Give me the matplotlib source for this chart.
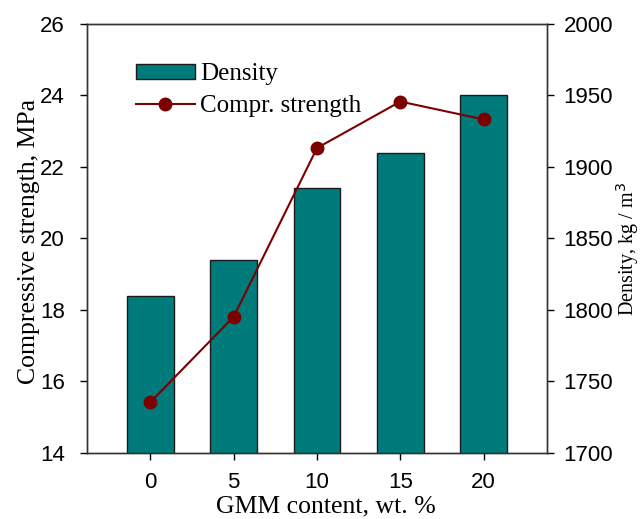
import numpy as np
import matplotlib.pyplot as plt

# GMM content (wt. %)
gmm = [0, 5, 10, 15, 20]
# density, kg/m3 (bars, right axis)
density = [1810, 1835, 1885, 1910, 1950]
# compressive strength, MPa (line, left axis)
strength = [15.42, 17.81, 22.53, 23.83, 23.33]

plt.rcParams['font.family'] = ['Liberation Sans', 'DejaVu Sans']
serif = ['Liberation Serif', 'DejaVu Serif']

fig = plt.figure(figsize=(6.43, 5.19), dpi=100)
ax = fig.add_axes([0.1353, 0.1272, 0.7154, 0.8266])
ax2 = ax.twinx()

bars = ax2.bar(gmm, density, width=2.8, color='#007B7B', edgecolor='#1a1a1a',
               linewidth=1.0, label='Density')
line, = ax.plot(gmm, strength, color='#7B0000', marker='o', markersize=9,
                linewidth=1.5, label='Compr. strength')

# keep the line above the bars
ax.set_zorder(ax2.get_zorder() + 1)
ax.patch.set_visible(False)

ax.set_xlim(-3.8, 23.8)
ax.set_ylim(14, 26)
ax.set_yticks(np.arange(14, 27, 2))
ax.set_xticks(gmm)
ax2.set_ylim(1700, 2000)
ax2.set_yticks(np.arange(1700, 2001, 50))

for a in (ax, ax2):
    a.tick_params(direction='out', length=5, width=1, labelsize=16)
    for s in a.spines.values():
        s.set_linewidth(1.0)
        s.set_color('#333333')
ax.tick_params(axis='y', pad=11)
ax.tick_params(axis='x', pad=9)
ax2.tick_params(axis='y', pad=7)

ax.set_xlabel('GMM content, wt. %', family=serif, fontsize=18.5)
ax.xaxis.set_label_coords(0.52, -0.1)
ax.set_ylabel('Compressive strength, MPa', family=serif, fontsize=18.5)
ax.yaxis.set_label_coords(-0.103, 0.494)
ax2.set_ylabel('Density, kg / m$^3$', family=serif, fontsize=14.5)
ax2.yaxis.set_label_coords(1.146, 0.4755)

leg = ax.legend([bars, line], ['Density', 'Compr. strength'],
                loc='upper left', bbox_to_anchor=(0.1065, 0.908), frameon=False,
                prop={'family': serif, 'size': 18}, handlelength=2.35,
                handleheight=0.55, borderpad=0, borderaxespad=0,
                labelspacing=0.38, handletextpad=0.2)

plt.savefig('out.png', dpi=100)
